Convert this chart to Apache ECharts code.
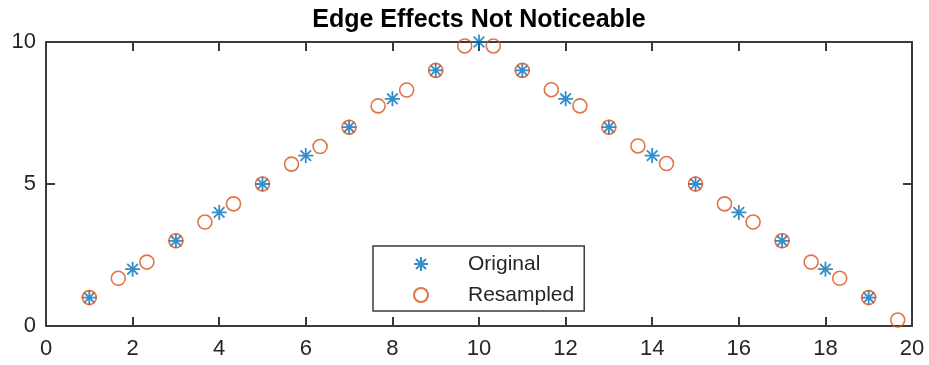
<!DOCTYPE html>
<html>
<head>
<meta charset="utf-8">
<script src="https://cdn.jsdelivr.net/npm/echarts@6/dist/echarts.min.js"></script>
<style>
  html, body { margin: 0; padding: 0; background: #fff; }
  #main { width: 929px; height: 365px; }
</style>
</head>
<body>
<div id="main"></div>
<script>
// original samples
var origX = [1, 2, 3, 4, 5, 6, 7, 8, 9, 10, 11, 12, 13, 14, 15, 16, 17, 18, 19];
var origY = [1, 2, 3, 4, 5, 6, 7, 8, 9, 10, 9, 8, 7, 6, 5, 4, 3, 2, 1];

// resampled points
var resX = [1, 1.67, 2.33, 3, 3.67, 4.33, 5, 5.67, 6.33, 7, 7.67, 8.33, 9, 9.67, 10.33,
            11, 11.67, 12.33, 13, 13.67, 14.33, 15, 15.67, 16.33, 17, 17.67, 18.33, 19, 19.67];
var resY = [1, 1.68, 2.25, 3, 3.66, 4.3, 5, 5.7, 6.32, 7, 7.75, 8.31, 9, 9.86, 9.86,
            9, 8.32, 7.75, 7, 6.34, 5.72, 5, 4.3, 3.66, 3, 2.25, 1.68, 1, 0.21];

var xTicks = [0, 2, 4, 6, 8, 10, 12, 14, 16, 18, 20];
var yTicks = [0, 5, 10];

var font = 'Liberation Sans, Arial, Helvetica, sans-serif';
var axisColor = '#3a3a3a';
var star = 'path://M0,-10L0,10M-10,0L10,0M-7.07,-7.07L7.07,7.07M-7.07,7.07L7.07,-7.07';

function pairs(xs, ys) {
  return xs.map(function (x, i) { return [x, ys[i]]; });
}

function xAxisDef(pos, labels) {
  return {
    type: 'value', position: pos,
    min: xTicks[0], max: xTicks[xTicks.length - 1], interval: 2,
    axisLine: { show: true, onZero: false, lineStyle: { color: axisColor, width: 2 } },
    axisTick: { show: true, inside: true, length: 9, lineStyle: { color: axisColor, width: 2 } },
    axisLabel: { show: labels, color: '#262626', fontSize: 22, fontFamily: font, margin: 12 },
    splitLine: { show: false }
  };
}
function yAxisDef(pos, labels) {
  return {
    type: 'value', position: pos,
    min: yTicks[0], max: yTicks[yTicks.length - 1], interval: 5,
    axisLine: { show: true, onZero: false, lineStyle: { color: axisColor, width: 2 } },
    axisTick: { show: true, inside: true, length: 9, lineStyle: { color: axisColor, width: 2 } },
    axisLabel: { show: labels, color: '#262626', fontSize: 22, fontFamily: font, margin: 10 },
    splitLine: { show: false }
  };
}

var chart = echarts.init(document.getElementById('main'), null, { renderer: 'canvas' });
chart.setOption({
  animation: false,
  backgroundColor: '#fff',
  title: {
    text: 'Edge Effects Not Noticeable',
    left: 479, top: 8, padding: 0, textAlign: 'center',
    textStyle: { fontSize: 25, fontWeight: 'bold', color: '#000', fontFamily: font }
  },
  grid: { left: 46, right: 17, top: 42, bottom: 39 },
  xAxis: [xAxisDef('bottom', true), xAxisDef('top', false)],
  yAxis: [yAxisDef('left', true), yAxisDef('right', false)],
  legend: {
    orient: 'vertical', left: 373, top: 246,
    padding: [6, 10, 4, 40],
    itemWidth: 14, itemHeight: 14, itemGap: 7,
    backgroundColor: '#fff', borderColor: axisColor, borderWidth: 1.5,
    textStyle: { fontSize: 21, fontFamily: font, color: '#262626', lineHeight: 24, padding: [0, 0, 0, 35] },
    data: ['Original', 'Resampled']
  },
  series: [
    {
      name: 'Original', type: 'scatter', data: pairs(origX, origY),
      symbol: star, symbolSize: 15,
      itemStyle: { color: 'rgba(0,0,0,0)', borderColor: '#0072BD', borderWidth: 1.8 }
    },
    {
      name: 'Resampled', type: 'scatter', data: pairs(resX, resY),
      symbol: 'circle', symbolSize: 14,
      itemStyle: { color: 'rgba(0,0,0,0)', borderColor: '#D95319', borderWidth: 1.6 }
    }
  ]
});
</script>
</body>
</html>
